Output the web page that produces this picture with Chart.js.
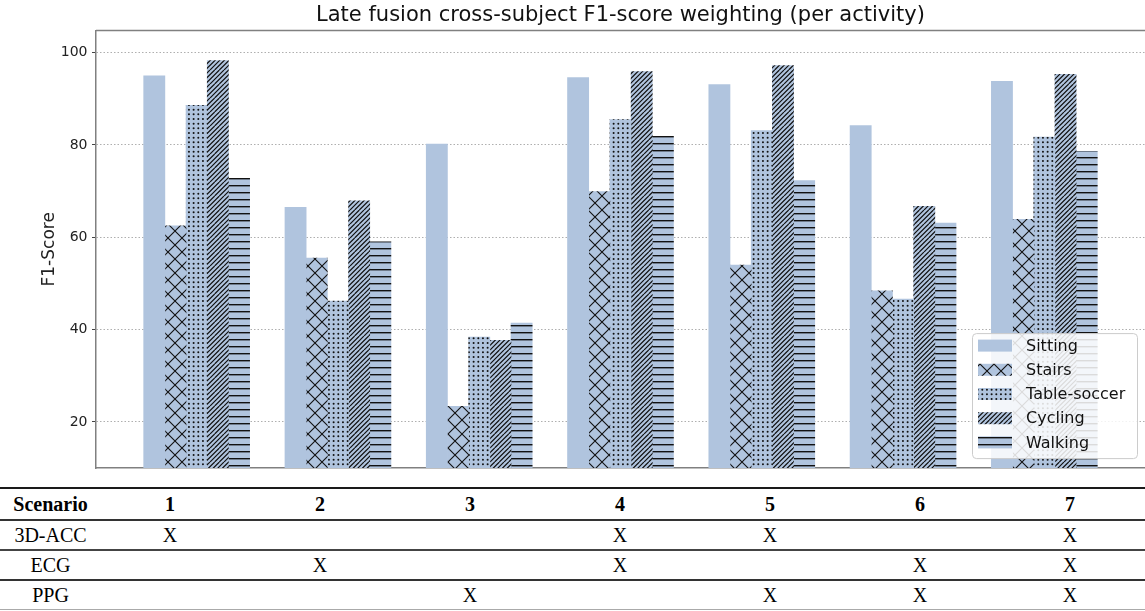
<!DOCTYPE html>
<html>
<head>
<meta charset="utf-8">
<script src="https://cdn.jsdelivr.net/npm/chart.js@4.4.1/dist/chart.umd.min.js"></script>
<style>
    body { margin: 0; background: #fff; }
    #wrap { width: 1145px; height: 481px; }
    table {
        border-collapse: collapse;
        table-layout: fixed;
        width: 1145px;
        margin-top: 6px;
        font-family: 'Liberation Serif', 'Times New Roman', serif;
        font-size: 20px;
        color: #000;
    }
    td { text-align: center; padding: 0; height: 28px; }
    td.nome { padding-left: 6px; }
    tr.cab td { font-weight: bold; height: 30px; border-top: 2px solid #1a1a1a; border-bottom: 2px solid #333; }
    tr.r1 td { border-bottom: 2px solid #444; }
    tr.r2 td { border-bottom: 2px solid #333; }
    tr.r3 td { border-bottom: 1px solid #aaa; }
</style>
</head>
<body>
<div id="wrap"><canvas id="grafico" width="1145" height="481"></canvas></div>
<table id="tabela">
    <colgroup><col style="width:95px"></colgroup>
</table>

<script>
// F1-score por cenário e atividade
const cenarios = ['1', '2', '3', '4', '5', '6', '7'];
const atividades = ['Sitting', 'Stairs', 'Table-soccer', 'Cycling', 'Walking'];
const sitting = [95.0, 66.5, 80.2, 94.6, 93.1, 84.2, 93.8];
const stairs = [62.5, 55.5, 23.4, 69.9, 54.0, 48.4, 63.9];
const tableSoccer = [88.6, 46.2, 38.4, 85.5, 83.1, 46.6, 81.7];
const cycling = [98.3, 67.9, 37.7, 95.9, 97.2, 66.7, 95.3];
const walking = [72.8, 59.0, 41.4, 81.9, 72.3, 63.1, 78.6];
const yTicks = [20, 40, 60, 80, 100];
const titulo = 'Late fusion cross-subject F1-score weighting (per activity)';

// sensores usados em cada cenário
const modalidades = ['3D-ACC', 'ECG', 'PPG'];
const acc = [1, 0, 0, 1, 1, 0, 1];
const ecg = [0, 1, 0, 1, 0, 1, 1];
const ppg = [0, 0, 1, 0, 1, 1, 1];

const corBase = '#b0c4de';
const corHachura = '#111';
const larguraBarra = 0.15;

function criarPadrao(desenho) {
    const c = document.createElement('canvas');
    c.width = 14;
    c.height = 14;
    const g = c.getContext('2d');
    g.fillStyle = corBase;
    g.fillRect(0, 0, 14, 14);
    g.strokeStyle = corHachura;
    g.fillStyle = corHachura;
    desenho(g);
    return g.createPattern(c, 'repeat');
}

const padraoX = criarPadrao(function(g) {
    g.lineWidth = 1.1;
    g.beginPath();
    g.moveTo(0, 0); g.lineTo(14, 14);
    g.moveTo(14, 0); g.lineTo(0, 14);
    g.stroke();
});
const padraoPontos = criarPadrao(function(g) {
    for (let i = 0; i < 3; i++) {
        for (let j = 0; j < 3; j++) {
            g.beginPath();
            g.arc(2.3 + i * 4.667, 2.3 + j * 4.667, 1, 0, Math.PI * 2);
            g.fill();
        }
    }
});
const padraoDiagonal = criarPadrao(function(g) {
    g.lineWidth = 1.2;
    g.beginPath();
    for (let c = -14; c <= 28; c += 14 / 3) {
        g.moveTo(c, 14);
        g.lineTo(c + 14, 0);
    }
    g.stroke();
});
const padraoHorizontal = criarPadrao(function(g) {
    g.fillRect(0, 3, 14, 1.4);
    g.fillRect(0, 10, 14, 1.4);
});

const series = [sitting, stairs, tableSoccer, cycling, walking];
const preenchimentos = [corBase, padraoX, padraoPontos, padraoDiagonal, padraoHorizontal];

const datasets = series.map(function(valores, k) {
    return {
        label: atividades[k],
        data: valores.map(function(v, i) {
            return { x: i + (k - 2) * larguraBarra, y: v };
        }),
        backgroundColor: preenchimentos[k],
        borderWidth: 0,
        grouped: false,
        barPercentage: 1,
        categoryPercentage: 1,
    };
});

// título centrado na área do gráfico e moldura superior
const molduraTopo = {
    id: 'molduraTopo',
    afterDraw(chart) {
        const ctx = chart.ctx;
        const a = chart.chartArea;
        ctx.save();
        ctx.strokeStyle = '#808080';
        ctx.lineWidth = 1.5;
        ctx.beginPath();
        ctx.moveTo(a.left, a.top);
        ctx.lineTo(a.right, a.top);
        ctx.stroke();
        ctx.fillStyle = '#111';
        ctx.font = '21px "DejaVu Sans"';
        ctx.textAlign = 'center';
        ctx.textBaseline = 'middle';
        ctx.fillText(titulo, (a.left + a.right) / 2, 16);
        ctx.restore();
    }
};

// legenda dentro da área do gráfico, canto inferior direito
const legendaInterna = {
    id: 'legendaInterna',
    afterDraw(chart) {
        const ctx = chart.ctx;
        const a = chart.chartArea;
        const w = 165, h = 125;
        const x = a.right - 8 - w;
        const y = a.bottom - 10 - h;
        ctx.save();
        ctx.fillStyle = 'rgba(255,255,255,0.85)';
        ctx.strokeStyle = '#cccccc';
        ctx.lineWidth = 1;
        ctx.beginPath();
        ctx.roundRect(x + 0.5, y + 0.5, w, h, 4);
        ctx.fill();
        ctx.stroke();
        ctx.font = '16px "DejaVu Sans"';
        ctx.textBaseline = 'middle';
        chart.data.datasets.forEach(function(ds, k) {
            const cy = y + 12.5 + k * 24.2;
            ctx.fillStyle = ds.backgroundColor;
            ctx.fillRect(x + 6, cy - 6, 34, 12);
            ctx.fillStyle = '#111';
            ctx.fillText(ds.label, x + 54, cy + 1);
        });
        ctx.restore();
    }
};

new Chart(document.getElementById('grafico').getContext('2d'), {
    type: 'bar',
    data: { datasets: datasets },
    plugins: [molduraTopo, legendaInterna],
    options: {
        responsive: false,
        animation: false,
        layout: { autoPadding: false, padding: { top: 30.5, right: 0, bottom: 8, left: 0 } },
        plugins: {
            legend: { display: false },
            tooltip: { enabled: false },
            title: { display: false },
        },
        scales: {
            x: {
                type: 'linear',
                min: -0.7125,
                max: 6.7125,
                offset: false,
                ticks: { display: false, stepSize: 1 },
                grid: { display: false, drawTicks: false },
                border: { color: '#808080', width: 1.5 },
                afterFit(scale) { scale.height = 0; },
            },
            y: {
                min: 10,
                max: 104.8,
                afterBuildTicks(scale) {
                    scale.ticks = yTicks.map(v => ({ value: v }));
                },
                ticks: {
                    color: '#222',
                    padding: 4.5,
                    font: { family: 'DejaVu Sans', size: 14 },
                },
                grid: {
                    color: 'rgba(120,120,120,0.75)',
                    lineWidth: 0.8,
                    tickLength: 4,
                    tickColor: '#444',
                    tickWidth: 1,
                    tickBorderDash: [],
                },
                border: { color: '#808080', width: 1.5, dash: [1.5, 2] },
                title: {
                    display: true,
                    text: 'F1-Score',
                    color: '#222',
                    font: { family: 'DejaVu Sans', size: 17 },
                    padding: { top: 39, bottom: 0 },
                },
                afterFit(scale) { scale.width = 96; },
            },
        },
    },
});

// tabela de sensores por cenário
const tabela = document.getElementById('tabela');
let html = '<tr class="cab"><td class="nome">Scenario</td>';
cenarios.forEach(function(c) { html += '<td>' + c + '</td>'; });
html += '</tr>';
[acc, ecg, ppg].forEach(function(linha, r) {
    html += '<tr class="r' + (r + 1) + '"><td class="nome">' + modalidades[r] + '</td>';
    linha.forEach(function(v) { html += '<td>' + (v ? 'X' : '') + '</td>'; });
    html += '</tr>';
});
tabela.insertAdjacentHTML('beforeend', html);
</script>
</body>
</html>
